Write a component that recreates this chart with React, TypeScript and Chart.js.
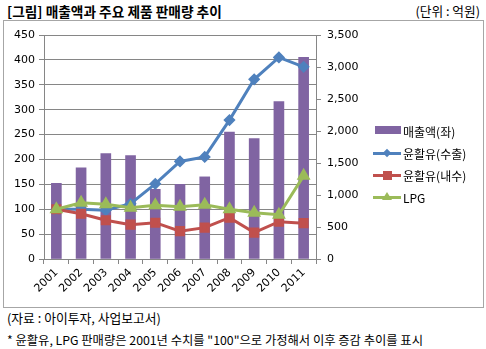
import React, { useEffect, useRef } from "react";
import { Chart, registerables } from "chart.js";

Chart.register(...registerables);

const years = ["2001", "2002", "2003", "2004", "2005", "2006", "2007", "2008", "2009", "2010", "2011"];
const sales = [152, 183, 212, 208, 140, 150, 165, 255, 242, 316, 405];
const lubeExport = [100, 100, 98, 111, 151, 196, 205, 279, 361, 405, 386];
const lubeDomestic = [100, 91, 78, 69, 73, 56, 63, 83, 53, 75, 72];
const lpg = [100, 113, 110, 103, 108, 105, 109, 100, 93, 89, 167];
const leftTicks = { min: 0, max: 450, step: 50 };
const rightTicks = { min: 0, max: 3500, step: 500 };

const seriesNames = ["매출액(좌)", "윤활유(수출)", "윤활유(내수)", "LPG"];
const colors = { bar: "#8064A2", blue: "#4F81BD", red: "#C0504D", green: "#9BBB59" };

const tickFont = { family: "'DejaVu Sans', sans-serif", size: 11 };
const korFont = "'Noto Sans CJK KR', sans-serif";
const gridColor = "#868686";

export default function App() {
  const ref = useRef<HTMLCanvasElement | null>(null);

  useEffect(() => {
    document.body.style.margin = "0";
    const ctx = ref.current!.getContext("2d")!;
    const chart = new Chart(ctx, {
      type: "bar",
      data: {
        labels: years,
        datasets: [
          {
            type: "line",
            label: seriesNames[3],
            data: lpg,
            borderColor: colors.green,
            backgroundColor: colors.green,
            borderWidth: 3,
            pointStyle: "triangle",
            pointRadius: 5,
            yAxisID: "y",
            order: 1,
          },
          {
            type: "line",
            label: seriesNames[2],
            data: lubeDomestic,
            borderColor: colors.red,
            backgroundColor: colors.red,
            borderWidth: 3,
            pointStyle: "rect",
            pointRadius: 5,
            yAxisID: "y",
            order: 2,
          },
          {
            type: "line",
            label: seriesNames[1],
            data: lubeExport,
            borderColor: colors.blue,
            backgroundColor: colors.blue,
            borderWidth: 3,
            pointStyle: "rectRot",
            pointRadius: 4,
            yAxisID: "y",
            order: 3,
          },
          {
            type: "bar",
            label: seriesNames[0],
            data: sales,
            backgroundColor: colors.bar,
            barThickness: 10,
            yAxisID: "y",
            order: 5,
          },
        ],
      },
      options: {
        animation: false,
        responsive: false,
        layout: { padding: { left: 0, top: 15, right: 117, bottom: 8 } },
        plugins: { legend: { display: false }, tooltip: { enabled: false } },
        scales: {
          x: {
            grid: { drawOnChartArea: false, drawTicks: true, tickLength: 5, color: gridColor, offset: true },
            border: { color: gridColor },
            ticks: { color: "#000", font: tickFont, minRotation: 45, maxRotation: 45, padding: 2 },
            afterFit: (s: any) => { s.height = 40; },
          },
          y: {
            position: "left",
            min: leftTicks.min,
            max: leftTicks.max,
            ticks: { stepSize: leftTicks.step, color: "#000", font: tickFont, padding: 4 },
            grid: { color: gridColor, tickLength: 5 },
            border: { color: gridColor },
            afterFit: (s: any) => { s.width = 41; },
          },
          y1: {
            position: "right",
            min: rightTicks.min,
            max: rightTicks.max,
            display: true,
            ticks: {
              stepSize: rightTicks.step,
              color: "#000",
              font: tickFont,
              padding: 6,
              callback: (v: any) => Number(v).toLocaleString("en-US"),
            },
            grid: { drawOnChartArea: false, color: gridColor, tickLength: 5 },
            border: { color: gridColor },
            afterFit: (s: any) => { s.width = 50; },
          },
        },
      },
    });
    return () => chart.destroy();
  }, []);

  const legendItems = [
    { name: seriesNames[0], color: colors.bar, kind: "bar" },
    { name: seriesNames[1], color: colors.blue, kind: "diamond" },
    { name: seriesNames[2], color: colors.red, kind: "square" },
    { name: seriesNames[3], color: colors.green, kind: "triangle" },
  ];

  return (
    <div style={{ position: "absolute", left: 0, top: 0, width: 486, height: 349, background: "#fff", fontFamily: korFont, color: "#000" }}>
      <div style={{ position: "absolute", left: 7, top: 2, fontSize: 13.7, fontWeight: "bold", lineHeight: "18px", whiteSpace: "nowrap" }}>
        [그림] 매출액과 주요 제품 판매량 추이
      </div>
      <div style={{ position: "absolute", right: 6, top: 2, fontSize: 12.7, lineHeight: "18px", whiteSpace: "nowrap" }}>
        (단위 : 억원)
      </div>
      <div style={{ position: "absolute", left: 3, top: 20, width: 479, height: 286, border: "1px solid #A6A6A6" }} />
      <canvas ref={ref} width={480} height={287} style={{ position: "absolute", left: 3, top: 20, width: 480, height: 287 }} />
      {legendItems.map((it, i) => (
        <div key={i} style={{ position: "absolute", left: 373, top: 123 + i * 22, height: 16, display: "flex", alignItems: "center", whiteSpace: "nowrap", fontSize: 12 }}>
          <div style={{ position: "relative", width: 28, height: 16, marginRight: 2 }}>
            {it.kind === "bar" ? (
              <div style={{ position: "absolute", left: 2, top: 3, width: 26, height: 8, background: it.color }} />
            ) : (
              <>
                <div style={{ position: "absolute", left: 0, top: 7, width: 28, height: 3, background: it.color }} />
                {it.kind === "diamond" && (
                  <div style={{ position: "absolute", left: 11, top: 5, width: 6, height: 6, background: it.color, transform: "rotate(45deg)" }} />
                )}
                {it.kind === "square" && (
                  <div style={{ position: "absolute", left: 10, top: 4, width: 9, height: 9, background: it.color }} />
                )}
                {it.kind === "triangle" && (
                  <div style={{ position: "absolute", left: 9, top: 3, width: 0, height: 0, borderLeft: "5px solid transparent", borderRight: "5px solid transparent", borderBottom: "8px solid " + it.color }} />
                )}
              </>
            )}
          </div>
          <span>{it.name}</span>
        </div>
      ))}
      <div style={{ position: "absolute", left: 7, top: 309, fontSize: 12.8, lineHeight: "18px", whiteSpace: "nowrap" }}>
        (자료 : 아이투자, 사업보고서)
      </div>
      <div style={{ position: "absolute", left: 7, top: 331, fontSize: 12.3, lineHeight: "18px", whiteSpace: "nowrap" }}>
        * 윤활유, LPG 판매량은 2001년 수치를 "100"으로 가정해서 이후 증감 추이를 표시
      </div>
    </div>
  );
}
